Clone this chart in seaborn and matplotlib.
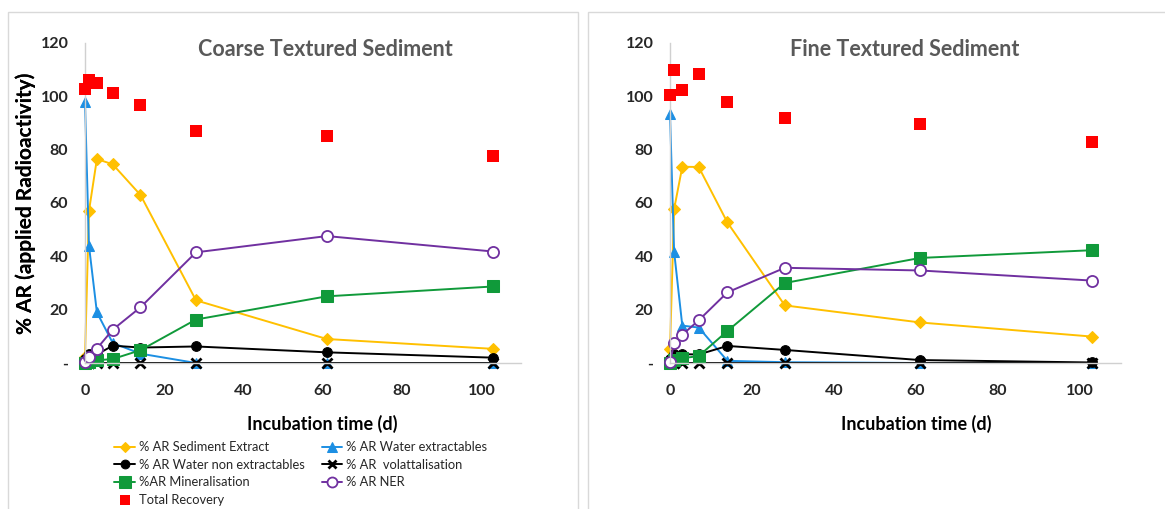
import matplotlib
matplotlib.use("Agg")
import matplotlib.pyplot as plt
import seaborn as sns
import pandas as pd
from matplotlib.patches import Rectangle

# ---------------- data ----------------
days = [0, 1, 3, 7, 14, 28, 61, 103]

coarse_sed_extract = [2.4, 57, 76.5, 74.5, 63, 23.5, 9, 5.3]
coarse_water_ext = [97.7, 44, 19, 7.5, 3.5, 0, 0, 0]
coarse_water_nonext = [1.5, 3.5, 3.2, 6.5, 5.8, 6.2, 4, 2]
coarse_volat = [0, 0, 0, 0, 0, 0, 0, 0]
coarse_mineral = [0, 0.5, 1, 1.5, 4.8, 16.3, 25, 28.7]
coarse_ner = [0.5, 2.2, 5.4, 12.5, 20.9, 41.5, 47.6, 41.8]
coarse_total = [102.7, 106.3, 104.9, 101.4, 96.7, 87, 85.2, 77.5]

fine_sed_extract = [5.3, 57.7, 73.6, 73.5, 52.7, 21.6, 15.2, 9.9]
fine_water_ext = [93.5, 41.8, 14, 13.3, 0.8, 0.3, 0, 0]
fine_water_nonext = [1.5, 3.3, 3.3, 3.2, 6.4, 4.9, 1.1, 0.2]
fine_volat = [0, 0, 0, 0, 0, 0, 0, 0]
fine_mineral = [0, 1, 1.8, 2.6, 12, 30, 39.4, 42.3]
fine_ner = [0.3, 7.4, 10.6, 16, 26.5, 35.7, 34.7, 30.9]
fine_total = [100.5, 110, 102.4, 108.4, 98, 92, 89.8, 82.9]

titles = ["Coarse Textured Sediment", "Fine Textured Sediment"]
series_labels = ["% AR Sediment Extract", "% AR Water extractables",
                 "% AR Water non extractables", "% AR  volattalisation",
                 "%AR Mineralisation", "% AR NER", "Total Recovery"]
y_ticks = [0, 20, 40, 60, 80, 100, 120]
y_tick_labels = ["-", "20", "40", "60", "80", "100", "120"]
x_ticks = [0, 20, 40, 60, 80, 100]
x_tick_labels = ["0", "20", "40", "60", "80", "100"]

# ---------------- style ----------------
sns.set_theme(style="white")
plt.rcParams["font.family"] = ["Lato", "DejaVu Sans"]

c_orange = "#FFC000"
c_blue = "#1C8FE3"
c_black = "#000000"
c_green = "#109A3A"
c_purple = "#7030A0"
c_red = "#FF0000"

W, H = 1165, 509
fig = plt.figure(figsize=(W / 100, H / 100), dpi=100)

# panel frames
for (x0, x1) in [(8, 578), (588, 1175)]:
    fig.patches.append(Rectangle((x0 / W, -0.05), (x1 - x0) / W, (H - 12) / H + 0.05,
                                 transform=fig.transFigure, fill=False,
                                 edgecolor="#D9D9D9", linewidth=1.0))

axes_pos = [(85, 521), (670, 1121)]
xlabel_centers = [319, 913]
title_centers = [325, 905]
panels = [
    (coarse_sed_extract, coarse_water_ext, coarse_water_nonext, coarse_volat,
     coarse_mineral, coarse_ner, coarse_total),
    (fine_sed_extract, fine_water_ext, fine_water_nonext, fine_volat,
     fine_mineral, fine_ner, fine_total),
]

y0_px, y120_px = 363, 43
legend_handles = None
for i, (pos, data) in enumerate(zip(axes_pos, panels)):
    l, r = pos
    ax = fig.add_axes([l / W, 1 - y0_px / H, (r - l) / W, (y0_px - y120_px) / H])
    sed, wext, wnon, vol, mine, ner, tot = data
    df = pd.DataFrame({"t": days, "sed": sed, "wext": wext, "wnon": wnon,
                       "vol": vol, "min": mine, "ner": ner, "tot": tot})
    common = dict(ax=ax, x="t", data=df, linewidth=1.4, clip_on=False)
    sns.lineplot(y="sed", color=c_orange, marker="D", markersize=6,
                 markeredgecolor=c_orange, label=series_labels[0], **common)
    sns.lineplot(y="wext", color=c_blue, marker="^", markersize=7.5,
                 markeredgecolor=c_blue, label=series_labels[1], **common)
    sns.lineplot(y="wnon", color=c_black, marker="o", markersize=7,
                 markeredgecolor=c_black, label=series_labels[2], **common)
    sns.lineplot(y="vol", color=c_black, marker="x", markersize=7,
                 markeredgewidth=2, markeredgecolor=c_black,
                 label=series_labels[3], **common)
    sns.lineplot(y="min", color=c_green, marker="s", markersize=9,
                 markeredgecolor=c_green, label=series_labels[4], **common)
    sns.lineplot(y="ner", color=c_purple, marker="o", markersize=8,
                 markerfacecolor="white", markeredgecolor=c_purple,
                 markeredgewidth=1.3, label=series_labels[5], **common)
    sns.scatterplot(data=df, x="t", y="tot", ax=ax, color=c_red, marker="s",
                    s=75, edgecolor=c_red, linewidth=0, clip_on=False,
                    label=series_labels[6], zorder=5)

    ax.set_xlim(0, 110)
    ax.set_ylim(0, 120)
    ax.set_xticks(x_ticks)
    ax.set_xticklabels(x_tick_labels)
    ax.set_yticks(y_ticks)
    ax.set_yticklabels(y_tick_labels)
    ax.tick_params(axis="both", length=0, labelsize=11.5)
    ax.tick_params(axis="y", pad=12)
    ax.tick_params(axis="x", pad=15)
    for lab in ax.get_xticklabels() + ax.get_yticklabels():
        lab.set_fontweight("bold")
    for s in ["top", "right"]:
        ax.spines[s].set_visible(False)
    for s in ["left", "bottom"]:
        ax.spines[s].set_color("#D0D0D0")
        ax.spines[s].set_linewidth(1.0)
    ax.set_facecolor("none")

    ax.set_ylabel("% AR (applied Radioactivity)", fontsize=15, fontweight="bold",
                  color="black", va="center")
    ax.yaxis.set_label_coords((26 - l) / (r - l), 0.5)
    ax.set_xlabel("Incubation time (d)", fontsize=13, fontweight="bold",
                  color="black", va="center")
    ax.xaxis.set_label_coords((xlabel_centers[i] + 3 - l) / (r - l),
                              -(424 - y0_px) / (y0_px - y120_px))
    ax.text(title_centers[i] / W, 1 - 50 / H, titles[i],
            transform=fig.transFigure, ha="center", va="center",
            fontsize=15.5, fontweight="bold", color="#595959")

    handles, labels = ax.get_legend_handles_labels()
    ax.get_legend().remove()
    if i == 0:
        legend_handles = (handles, labels)

h, lb = legend_handles
order = [0, 2, 4, 6, 1, 3, 5]
fig.legend([h[k] for k in order], [lb[k] for k in order], ncol=2,
           loc="upper left", bbox_to_anchor=(108 / W, 1 - 435 / H),
           frameon=False, fontsize=9.3, handlelength=1.6, handletextpad=0.3,
           columnspacing=1.3, labelspacing=0.42, borderpad=0, markerscale=0.9)

fig.savefig("out.png", dpi=100)
